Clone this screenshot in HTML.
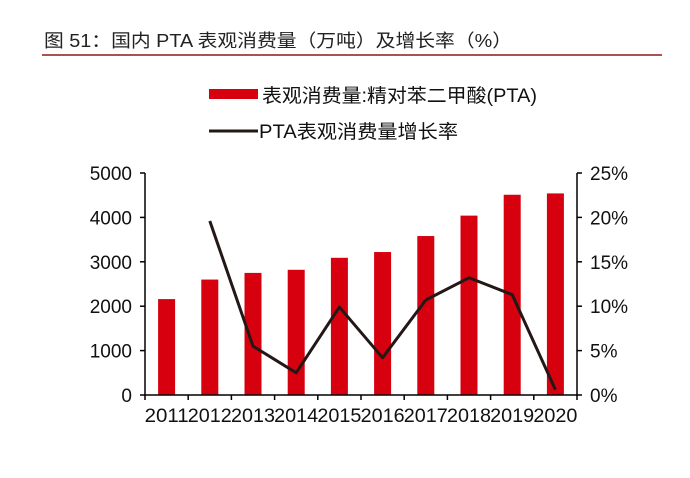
<!DOCTYPE html>
<html><head><meta charset="utf-8"><style>
body{margin:0;background:#fff;width:690px;height:473px;overflow:hidden;font-family:"Liberation Sans","Noto Sans CJK SC",sans-serif}
</style></head><body>
<svg width="690" height="473" xmlns="http://www.w3.org/2000/svg" font-family="Liberation Sans, Noto Sans CJK SC, sans-serif">
<text x="44" y="47" font-size="18" fill="#222" textLength="468" lengthAdjust="spacingAndGlyphs">图 51：国内 PTA 表观消费量（万吨）及增长率（%）</text>
<line x1="42" y1="55" x2="662" y2="55" stroke="#8b1a1a" stroke-width="1.5"/>
<rect x="209" y="89" width="49" height="10" fill="#d7000f"/>
<text x="262" y="102" font-size="19" fill="#111" textLength="275" lengthAdjust="spacingAndGlyphs">表观消费量:精对苯二甲酸(PTA)</text>
<line x1="209" y1="131" x2="258" y2="131" stroke="#231815" stroke-width="3"/>
<text x="259" y="138" font-size="19" fill="#111" textLength="199" lengthAdjust="spacingAndGlyphs">PTA表观消费量增长率</text>
<g id="chart"></g>
</svg>
<script>
const years=["2011","2012","2013","2014","2015","2016","2017","2018","2019","2020"];
const consumption=[2160,2600,2750,2820,3090,3220,3580,4040,4510,4540];
const growth=[null,19.6,5.5,2.5,9.9,4.2,10.7,13.2,11.3,0.6];
const leftTicks=[0,1000,2000,3000,4000,5000];
const rightTicks=[0,5,10,15,20,25];
const X0=145,X1=577,Y0=395,Y1=173;
const step=(X1-X0)/years.length;
const xc=i=>X0+step*(i+0.5);
const yl=v=>Y0-(v/5000)*(Y0-Y1);
const yr=v=>Y0-(v/25)*(Y0-Y1);
const g=document.getElementById('chart');
const NS="http://www.w3.org/2000/svg";
function mk(t,a){const e=document.createElementNS(NS,t);for(const k in a)e.setAttribute(k,a[k]);g.appendChild(e);return e;}
consumption.forEach((v,i)=>{const r=mk('rect',{x:xc(i)-8.5,y:yl(v),width:17,height:Y0-yl(v),fill:'#d7000f'});

});
let d='';growth.forEach((v,i)=>{if(v==null)return;d+=(d?'L':'M')+xc(i)+','+yr(v);});
const p=mk('path',{d:d,fill:'none',stroke:'#231815','stroke-width':3,'stroke-linejoin':'round'});


const ax=mk('path',{d:`M${X0},${Y1}L${X0},${Y0}L${X1},${Y0}L${X1},${Y1}`,fill:'none',stroke:'#000','stroke-width':1.5});


leftTicks.forEach(v=>{mk('line',{x1:X0-5,x2:X0,y1:yl(v),y2:yl(v),stroke:'#000','stroke-width':1.5});
const t=mk('text',{x:X0-13,y:yl(v)+7,'font-size':19,'text-anchor':'end',fill:'#111'});t.textContent=v;

});
rightTicks.forEach(v=>{mk('line',{x1:X1,x2:X1+5,y1:yr(v),y2:yr(v),stroke:'#000','stroke-width':1.5});
const t=mk('text',{x:X1+13,y:yr(v)+7,'font-size':19,fill:'#111'});t.textContent=v+'%';

});
for(let i=0;i<=years.length;i++){mk('line',{x1:X0+step*i,x2:X0+step*i,y1:Y0,y2:Y0+5,stroke:'#000','stroke-width':1.5});}
years.forEach((y,i)=>{const t=mk('text',{x:xc(i),y:Y0+27,'font-size':19,'text-anchor':'middle',fill:'#111',textLength:44,lengthAdjust:'spacingAndGlyphs'});t.textContent=y;

});
</script>
</body></html>
